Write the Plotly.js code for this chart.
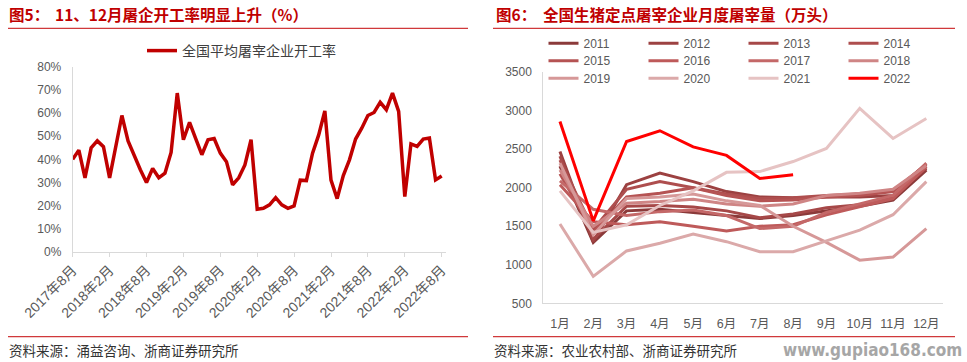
<!DOCTYPE html>
<html>
<head>
<meta charset="utf-8">
<script src="https://cdn.plot.ly/plotly-3.0.1.min.js"></script>
<style>html,body{margin:0;padding:0;background:#fff;}#chart{width:967px;height:362px;}</style>
</head>
<body>
<div id="chart"></div>
<script>
// ---------- Left chart data: 全国平均屠宰企业开工率 (%), monthly 2017年8月 - 2022年8月 ----------
const leftStartYear = 2017;
const leftStartMonth = 8;
const operatingRate = [
  40, 44, 32, 45, 48, 45.5, 32, 45, 59, 48,
  41.5, 35.5, 30, 36, 32, 34, 43, 68.7, 48.5, 56,
  49, 42, 48.5, 49, 42.7, 39, 29, 32, 37.6, 48.5,
  18.4, 18.8, 20.3, 23.4, 20.3, 18.8, 19.8, 31, 30.8, 42.7,
  50.6, 61, 31, 23, 33, 39.8, 48.8, 53.5, 59, 60.3,
  64.7, 61.5, 68.7, 60.8, 23.9, 46.7, 45.6, 48.8, 49.2, 31.1,
  32.8
];
const leftTickLabels = ['2017年8月','2018年2月','2018年8月','2019年2月','2019年8月','2020年2月','2020年8月','2021年2月','2021年8月','2022年2月','2022年8月'];
const leftYTicks = [0,10,20,30,40,50,60,70,80];
const leftYTickText = ['0%','10%','20%','30%','40%','50%','60%','70%','80%'];
const leftSeriesName = '全国平均屠宰企业开工率';

// ---------- Right chart data: 全国生猪定点屠宰企业月度屠宰量 (万头) ----------
const monthsCN = ['1月','2月','3月','4月','5月','6月','7月','8月','9月','10月','11月','12月'];
const years = ['2011','2012','2013','2014','2015','2016','2017','2018','2019','2020','2021','2022'];
const y2011 = [2280,1290,1700,1720,1680,1640,1600,1640,1700,1760,1840,2230];
const y2012 = [2470,1300,2040,2190,2080,1950,1880,1870,1880,1880,1900,2250];
const y2013 = [2410,1330,1760,1770,1750,1700,1610,1660,1740,1780,1870,2280];
const y2014 = [2360,1460,1980,2080,2000,1920,1860,1870,1900,1920,1960,2300];
const y2015 = [2180,1420,1880,1930,2000,1900,1830,1840,1880,1900,1950,2310];
const y2016 = [2040,1560,1520,1560,1500,1440,1500,1520,1650,1760,1860,2270];
const y2017 = [2090,1720,1640,1690,1710,1640,1470,1500,1680,1790,1900,2320];
const y2018 = [2230,1500,1800,1820,1850,1790,1760,1790,1900,1930,1980,2290];
const y2019 = [2320,1390,1860,1880,1920,1830,1770,1500,1290,1060,1100,1470];
const y2020 = [1530,850,1180,1280,1400,1300,1170,1170,1310,1450,1650,2080];
const y2021 = [1960,1420,1520,1770,1960,2200,2210,2340,2510,3030,2640,2900];
const y2022 = [2860,1570,2600,2740,2530,2420,2120,2170];
const yearSeries = [y2011,y2012,y2013,y2014,y2015,y2016,y2017,y2018,y2019,y2020,y2021,y2022];
const yearColors = ['#8B3A3A','#9C4141','#A64848','#AE4E4E','#B55353','#BE5A5A','#C46868','#CF8585','#D69898','#DBA9A9','#E6C3C3','#FF0000'];
const rightYTicks = [500,1000,1500,2000,2500,3000,3500];

// ---------- build ----------
const W = 967, H = 362;
const px = x => x / W;
const py = y => 1 - y / H;

const leftX = operatingRate.map((_, i) => {
  const t = leftStartMonth - 1 + i;
  return (leftStartYear + Math.floor(t / 12)) + '年' + (t % 12 + 1) + '月';
});

const CJK = 'Liberation Sans, Arial, "Noto Sans CJK SC", sans-serif';
const CJKONLY = '"Noto Sans CJK SC", sans-serif';

const traces = [];
traces.push({
  type: 'scatter', mode: 'lines', name: leftSeriesName,
  x: leftX, y: operatingRate, xaxis: 'x', yaxis: 'y',
  line: {color: '#C00000', width: 3.5},
  legend: 'legend', showlegend: true, hoverinfo: 'skip'
});
yearSeries.forEach((vals, i) => {
  traces.push({
    type: 'scatter', mode: 'lines', name: years[i],
    x: monthsCN.slice(0, vals.length), y: vals, xaxis: 'x2', yaxis: 'y2',
    line: {color: yearColors[i], width: 3},
    legend: i < 4 ? 'legend2' : (i < 8 ? 'legend3' : 'legend4'),
    showlegend: true, hoverinfo: 'skip'
  });
});

const rowLegend = (yc) => ({
  orientation: 'h', x: px(543.5), xanchor: 'left', y: py(yc), yanchor: 'middle',
  bgcolor: 'rgba(0,0,0,0)', borderwidth: 0, entrywidth: 55, entrywidthmode: 'pixels',
  font: {family: CJK, size: 12, color: '#595959'}, traceorder: 'normal', itemclick: false, itemdoubleclick: false
});

const layout = {
  width: W, height: H,
  margin: {l: 0, r: 0, t: 0, b: 0, pad: 0},
  paper_bgcolor: '#ffffff', plot_bgcolor: '#ffffff',
  hovermode: false,
  font: {family: CJK, color: '#595959'},
  xaxis: {
    type: 'category', domain: [px(72.7), px(446)], range: [0, 60.7], anchor: 'y',
    tickmode: 'array', tickvals: leftTickLabels, ticktext: leftTickLabels, tickangle: -45,
    ticks: 'outside', ticklen: 4, tickcolor: '#D9D9D9', tickwidth: 1,
    showline: true, linecolor: '#D9D9D9', linewidth: 1, showgrid: false, zeroline: false,
    tickfont: {family: CJK, size: 14, color: '#595959'}, fixedrange: true
  },
  yaxis: {
    domain: [py(251.7), py(67)], range: [0, 80], anchor: 'x',
    tickmode: 'array', tickvals: leftYTicks, ticktext: leftYTickText,
    ticks: 'outside', ticklen: 8, tickcolor: 'rgba(0,0,0,0)',
    showline: true, linecolor: '#D9D9D9', linewidth: 1, showgrid: false, zeroline: false,
    tickfont: {family: CJK, size: 12, color: '#595959'}, fixedrange: true
  },
  xaxis2: {
    type: 'category', domain: [px(543.3), px(943)], range: [-0.5, 11.5], anchor: 'y2',
    tickmode: 'array', tickvals: monthsCN, ticktext: monthsCN,
    ticks: 'outside', ticklen: 9, tickcolor: 'rgba(0,0,0,0)',
    showline: true, linecolor: '#D9D9D9', linewidth: 1, showgrid: false, zeroline: false,
    tickfont: {family: CJK, size: 12.5, color: '#595959'}, fixedrange: true
  },
  yaxis2: {
    domain: [py(303.3), py(72.2)], range: [500, 3500], anchor: 'x2',
    tickmode: 'array', tickvals: rightYTicks,
    ticks: 'outside', ticklen: 8, tickcolor: 'rgba(0,0,0,0)',
    showline: true, linecolor: '#D9D9D9', linewidth: 1, showgrid: false, zeroline: false,
    tickfont: {family: CJK, size: 12, color: '#595959'}, fixedrange: true
  },
  legend: {
    orientation: 'h', x: px(142), xanchor: 'left', y: py(51), yanchor: 'middle',
    bgcolor: 'rgba(0,0,0,0)', borderwidth: 0,
    font: {family: CJKONLY, size: 14, color: '#404040'}, itemclick: false, itemdoubleclick: false
  },
  legend2: rowLegend(43.3),
  legend3: rowLegend(60.7),
  legend4: rowLegend(78.3),
  shapes: [
    {type: 'line', xref: 'paper', yref: 'paper', x0: px(8), x1: px(468), y0: py(28.3), y1: py(28.3), line: {color: '#D0393B', width: 1.3}},
    {type: 'line', xref: 'paper', yref: 'paper', x0: px(493), x1: px(955), y0: py(28.3), y1: py(28.3), line: {color: '#D0393B', width: 1.3}},
    {type: 'line', xref: 'paper', yref: 'paper', x0: px(8), x1: px(468), y0: py(336.7), y1: py(336.7), line: {color: '#D0393B', width: 1.3}},
    {type: 'line', xref: 'paper', yref: 'paper', x0: px(493), x1: px(955), y0: py(336.7), y1: py(336.7), line: {color: '#D0393B', width: 1.3}}
  ],
  annotations: [
    {text: '<b>图5：</b>', x: px(7), y: py(14), xref: 'paper', yref: 'paper', xanchor: 'left', yanchor: 'middle', showarrow: false, font: {family: CJKONLY, size: 15.5, color: '#C00000'}},
    {text: '<b>11、12月屠企开工率明显上升（%）</b>', x: px(53), y: py(14), xref: 'paper', yref: 'paper', xanchor: 'left', yanchor: 'middle', showarrow: false, font: {family: CJKONLY, size: 15.5, color: '#C00000'}},
    {text: '<b>图6：</b>', x: px(494), y: py(14), xref: 'paper', yref: 'paper', xanchor: 'left', yanchor: 'middle', showarrow: false, font: {family: CJKONLY, size: 15.5, color: '#C00000'}},
    {text: '<b>全国生猪定点屠宰企业月度屠宰量（万头）</b>', x: px(541), y: py(14), xref: 'paper', yref: 'paper', xanchor: 'left', yanchor: 'middle', showarrow: false, font: {family: CJKONLY, size: 15.5, color: '#C00000'}},
    {text: '资料来源：涌益咨询、浙商证券研究所', x: px(7), y: py(350), xref: 'paper', yref: 'paper', xanchor: 'left', yanchor: 'middle', showarrow: false, font: {family: CJKONLY, size: 13.5, color: '#333333'}},
    {text: '资料来源：农业农村部、浙商证券研究所', x: px(492), y: py(350), xref: 'paper', yref: 'paper', xanchor: 'left', yanchor: 'middle', showarrow: false, font: {family: CJKONLY, size: 13.5, color: '#333333'}},
    {text: '<b>www.gupiao168.com</b>', x: px(964), y: py(350), xref: 'paper', yref: 'paper', xanchor: 'right', yanchor: 'middle', showarrow: false, font: {family: '"Liberation Sans Narrow", "DejaVu Sans Condensed", "Liberation Sans", sans-serif', size: 17, color: '#A6A6A6'}}
  ]
};

Plotly.newPlot('chart', traces, layout, {displayModeBar: false, staticPlot: true});
</script>
</body>
</html>
